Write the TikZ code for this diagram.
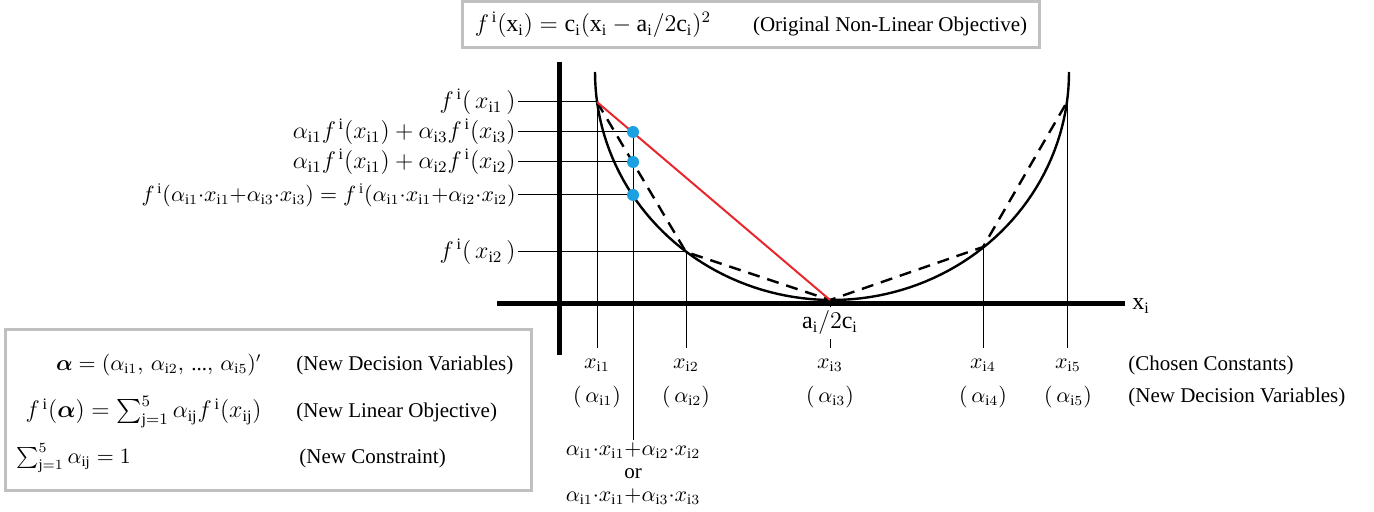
\documentclass[tikz,border=0pt]{standalone}
\usepackage{amsmath,amssymb}
\usepackage{fontspec}
\setmainfont{Liberation Serif}
\usetikzlibrary{calc,positioning}
\definecolor{chordred}{HTML}{E8262B}
\definecolor{dotblue}{HTML}{1BA1E2}
\definecolor{boxgray}{HTML}{C0C0C0}

\newcommand{\xsub}[1]{x_{\mathrm{i}#1}}
\newcommand{\asub}[1]{\alpha_{\mathrm{i}#1}}
\newcommand{\fsup}{f^{\,\mathrm{i}}}

\begin{document}
\begin{tikzpicture}[
      x=0.5pt, y=-0.5pt,
      every node/.style={font=\fontsize{10.5}{12}\selectfont, inner sep=1pt},
      mathbig/.style={font=\fontsize{12}{14}\selectfont},
      axisline/.style={line width=2.5pt},
      curveline/.style={line width=1.2pt},
      guide/.style={line width=0.5pt},
      chord/.style={line width=1.2pt, dash pattern=on 6pt off 4pt},
      panel/.style={draw=boxgray, line width=1.5pt, inner sep=0pt},
      bluedot/.style={circle, fill=dotblue, minimum size=6pt, inner sep=0pt},
      lab/.style={anchor=east}
    ]
      \useasboundingbox (0,0) rectangle (1374,512);

      % objective on top
      \node[panel, minimum width=288.5pt, minimum height=23pt] (obj) at (751,25) {
        {\fontsize{12}{14}\selectfont$\fsup(\mathrm{x_i}) = \mathrm{c_i}(\mathrm{x_i} - \mathrm{a_i}/2\mathrm{c_i})^2$}\qquad(Original Non-Linear Objective)
      };

      % points on the curve
      \coordinate (p1) at (597,102);
      \coordinate (p2) at (686,252);
      \coordinate (p3) at (830,300);
      \coordinate (p4) at (983,247);
      \coordinate (p5) at (1067,102);
      \coordinate (b1) at (633,132);
      \coordinate (b2) at (633,162);
      \coordinate (b3) at (633,195);
      \coordinate (vb) at (0,348);

      % labels on the left
      \node[lab, mathbig] (l1) at (518,102) {$\fsup(\,\xsub{1}\,)$};
      \node[lab, mathbig] (l2) at (518,132) {$\asub{1}\fsup(\xsub{1}) + \asub{3}\fsup(\xsub{3})$};
      \node[lab, mathbig] (l3) at (518,162) {$\asub{1}\fsup(\xsub{1}) + \asub{2}\fsup(\xsub{2})$};
      \node[lab] (l4) at (518,195) {
        $\fsup(\asub{1}{\cdot}\xsub{1}{+}\asub{3}{\cdot}\xsub{3}) = \fsup(\asub{1}{\cdot}\xsub{1}{+}\asub{2}{\cdot}\xsub{2})$
      };
      \node[lab, mathbig] (l5) at (518,252) {$\fsup(\,\xsub{2}\,)$};

      \draw[guide] (l1.east) -- (p1);
      \draw[guide] (l2.east) -- (b1);
      \draw[guide] (l3.east) -- (b2);
      \draw[guide] (l4.east) -- (b3);
      \draw[guide] (l5.east) -- (p2);

      % labels under the axis
      \node[anchor=north, align=center, font=\fontsize{10.5}{11.5}\selectfont] (comb) at (633,440) {
        $\asub{1}{\cdot}\xsub{1}{+}\asub{2}{\cdot}\xsub{2}$\\
        or\\
        $\asub{1}{\cdot}\xsub{1}{+}\asub{3}{\cdot}\xsub{3}$
      };
      \node (x1) at (597,365) {$\xsub{1}$};
      \node (x2) at (686,365) {$\xsub{2}$};
      \node (x3) at (830,365) {$\xsub{3}$};
      \node (x4) at (983,365) {$\xsub{4}$};
      \node (x5) at (1068,365) {$\xsub{5}$};
      \node (a1) at (597,397) {$(\,\asub{1})$};
      \node (a2) at (686,397) {$(\,\asub{2})$};
      \node (a3) at (830,397) {$(\,\asub{3})$};
      \node (a4) at (983,397) {$(\,\asub{4})$};
      \node (a5) at (1068,397) {$(\,\asub{5})$};
      \node[anchor=west] (cc) at (1126,365) {(Chosen Constants)};
      \node[anchor=west] (nd) at (1126,397) {(New Decision Variables)};

      % vertical guides
      \draw[guide] (p1) -- (p1 |- vb);
      \draw[guide] (p2) -- (p2 |- vb);
      \draw[guide] (p3) -- (p3 |- vb);
      \draw[guide] (p4) -- (p4 |- vb);
      \draw[guide] (p5) -- (p5 |- vb);
      \draw[guide] (b1) -- (comb.north);
      \node[mathbig, fill=white, inner sep=2pt] (amin) at (830,323) {$\mathrm{a_i}/2\mathrm{c_i}$};

      % curve, chords and axes
      \draw[curveline] plot[domain=180:360, samples=90] ({832+237*cos(\x)}, {72-228*sin(\x)});
      \draw[chord] (p1) -- (p2) -- (p3) -- (p4) -- (p5);
      \draw[chordred, line width=1pt] (p1) -- (p3);
      \node[bluedot] (d1) at (b1) {};
      \node[bluedot] (d2) at (b2) {};
      \node[bluedot] (d3) at (b3) {};

      \coordinate (xl) at (497,304);
      \coordinate (xr) at (1125,304);
      \coordinate (yt) at (559,62);
      \coordinate (yb) at (559,355);
      \draw[axisline] (xl) -- (xr);
      \draw[axisline] (yt) -- (yb);
      \node[mathbig, anchor=west] (xlab) at (1130,306) {$\mathrm{x_i}$};

      % new formulation
      \node[panel, minimum width=263pt, minimum height=80pt] (defs) at (268,410) {};
      \node[anchor=east] (alpha) at (264,365) {$\boldsymbol{\alpha} = (\asub{1},\, \asub{2},\, \text{...},\, \asub{5})'$};
      \node[anchor=west] (alphatxt) at (294,365) {(New Decision Variables)};
      \node[mathbig, anchor=east] (lin) at (264,412) {$\fsup(\boldsymbol{\alpha}) = \sum_{\mathrm{j}=1}^{5} \alpha_{\mathrm{ij}}\fsup(x_{\mathrm{ij}})$};
      \node[anchor=west] (lintxt) at (294,412) {(New Linear Objective)};
      \node[anchor=west] (cons) at (14,458) {$\sum_{\mathrm{j}=1}^{5} \alpha_{\mathrm{ij}} = 1$};
      \node[anchor=west] (constxt) at (297,458) {(New Constraint)};
    \end{tikzpicture}
\end{document}
